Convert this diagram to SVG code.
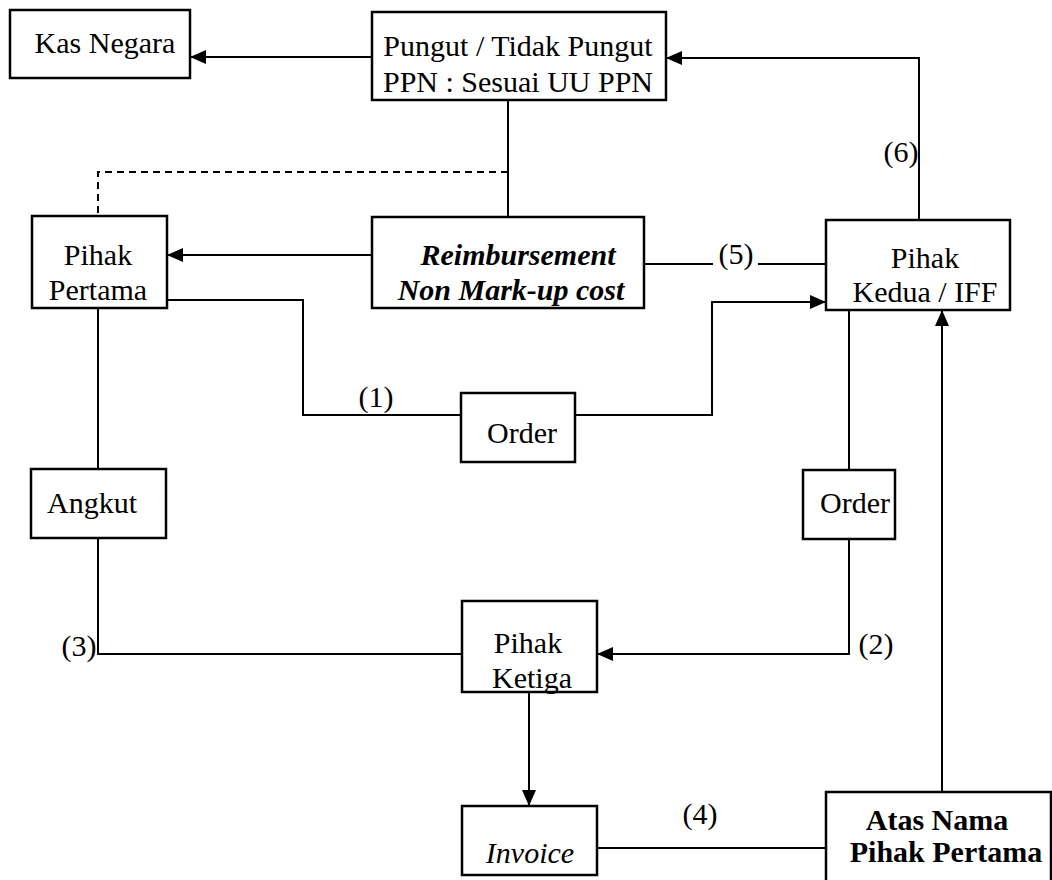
<svg xmlns="http://www.w3.org/2000/svg" width="1052" height="880" viewBox="0 0 1052 880">
<style>
.box{fill:#fff;stroke:#000;stroke-width:2.5}
.t{font-family:"Liberation Serif","Times New Roman",serif;font-size:30px;fill:#000;text-anchor:middle}
.bi{font-weight:bold;font-style:italic}
.b{font-weight:bold}
.i{font-style:italic}
.c{fill:none;stroke:#000;stroke-width:2}
.d{stroke-dasharray:7 5}
</style>
<defs>
<marker id="ah" markerUnits="userSpaceOnUse" markerWidth="16" markerHeight="14" refX="15" refY="7" orient="auto">
<path d="M0,0 L16,7 L0,14 Z" fill="#000"/>
</marker>
</defs>
<rect width="1052" height="880" fill="#fff"/>
<g id="connectors">
<path class="c" d="M372,57 H191" marker-end="url(#ah)"/>
<path class="c" d="M919,220 V58 H667" marker-end="url(#ah)"/>
<path class="c" d="M508,100 V217"/>
<path class="c d" d="M508,172 H98 V216"/>
<path class="c" d="M372,255 H168" marker-end="url(#ah)"/>
<path class="c" d="M167,300 H303 V415 H461"/>
<path class="c" d="M575,415 H712 V302 H825" marker-end="url(#ah)"/>
<path class="c" d="M644,264 H713 M758,264 H826"/>
<path class="c" d="M98,308 V469"/>
<path class="c" d="M98,538 V654 H462"/>
<path class="c" d="M849,310 V470"/>
<path class="c" d="M849,539 V654 H598" marker-end="url(#ah)"/>
<path class="c" d="M529,692 V805" marker-end="url(#ah)"/>
<path class="c" d="M597,848 H826"/>
<path class="c" d="M942,792 V311" marker-end="url(#ah)"/>
<text class="t" x="376" y="407">(1)</text>
<text class="t" x="876" y="654">(2)</text>
<text class="t" x="79" y="656">(3)</text>
<text class="t" x="700" y="824">(4)</text>
<text class="t" x="736" y="264">(5)</text>
<text class="t" x="901" y="162">(6)</text>
</g>
<g id="kas-negara">
<rect class="box" x="10" y="10" width="180" height="68"/>
<text class="t" x="105" y="53">Kas Negara</text>
</g>
<g id="pungut">
<rect class="box" x="372" y="12" width="294" height="88"/>
<text class="t" x="518" y="56">Pungut / Tidak Pungut</text>
<text class="t" x="518" y="92">PPN : Sesuai UU PPN</text>
</g>
<g id="pihak-pertama">
<rect class="box" x="32" y="216" width="135" height="92"/>
<text class="t" x="98" y="265">Pihak</text>
<text class="t" x="98" y="300">Pertama</text>
</g>
<g id="reimbursement">
<rect class="box" x="372" y="217" width="272" height="91"/>
<text class="t bi" x="518" y="265">Reimbursement</text>
<text class="t bi" x="511" y="300">Non Mark-up cost</text>
</g>
<g id="pihak-kedua">
<rect class="box" x="826" y="220" width="184" height="90"/>
<text class="t" x="925" y="268">Pihak</text>
<text class="t" x="925" y="302">Kedua / IFF</text>
</g>
<g id="order-1">
<rect class="box" x="461" y="393" width="114" height="69"/>
<text class="t" x="522" y="443">Order</text>
</g>
<g id="angkut">
<rect class="box" x="31" y="469" width="135" height="69"/>
<text class="t" x="92" y="513">Angkut</text>
</g>
<g id="order-2">
<rect class="box" x="803" y="470" width="92" height="69"/>
<text class="t" x="855" y="513">Order</text>
</g>
<g id="pihak-ketiga">
<rect class="box" x="462" y="601" width="135" height="91"/>
<text class="t" x="528" y="653">Pihak</text>
<text class="t" x="532" y="688">Ketiga</text>
</g>
<g id="invoice">
<rect class="box" x="462" y="806" width="135" height="69"/>
<text class="t i" x="530" y="863">Invoice</text>
</g>
<g id="atas-nama">
<rect class="box" x="826" y="792" width="225" height="95"/>
<text class="t b" x="937" y="830">Atas Nama</text>
<text class="t b" x="946" y="862">Pihak Pertama</text>
</g>
</svg>
